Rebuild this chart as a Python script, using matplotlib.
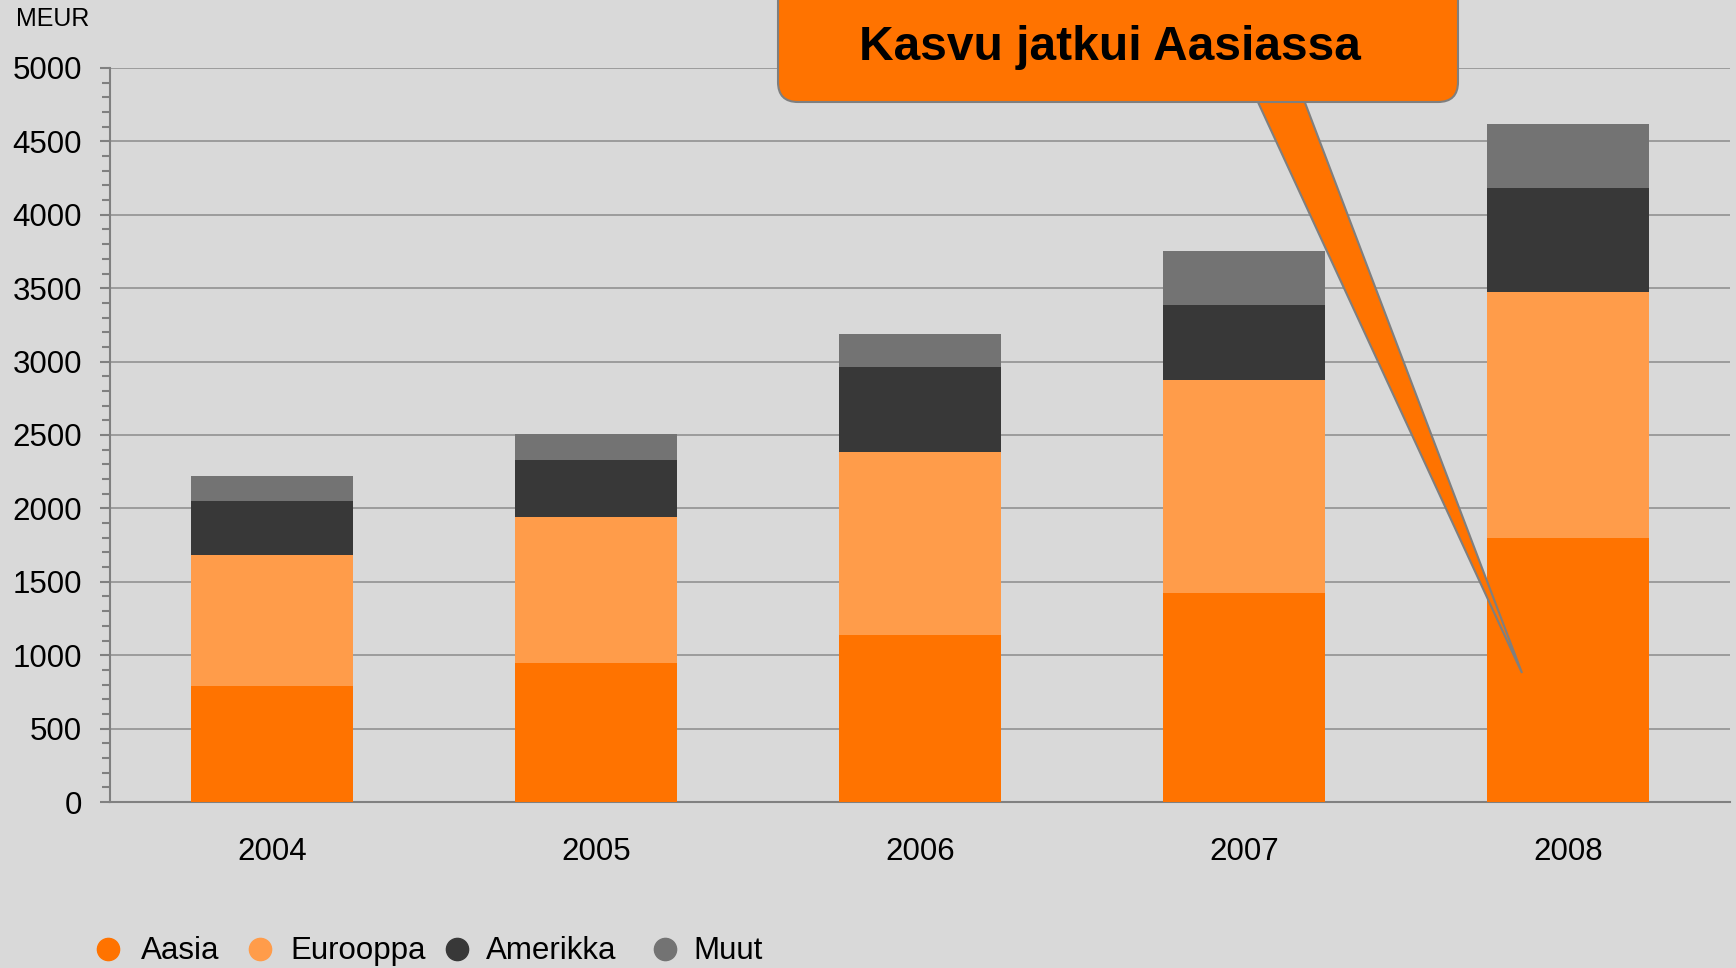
import matplotlib
matplotlib.use("Agg")
import matplotlib.pyplot as plt
import matplotlib.transforms as mtransforms
from matplotlib.patches import FancyBboxPatch, Polygon
from matplotlib.lines import Line2D
from matplotlib.ticker import MultipleLocator
import numpy as np

years = ["2004", "2005", "2006", "2007", "2008"]
series_names = ["Aasia", "Eurooppa", "Amerikka", "Muut"]
aasia = [790, 950, 1140, 1425, 1795]
eurooppa = [890, 990, 1245, 1450, 1680]
amerikka = [370, 390, 580, 510, 705]
muut = [170, 175, 225, 370, 440]
callout_text = "Kasvu jatkui Aasiassa"

colors = ["#ff7300", "#ff9c4a", "#383838", "#737373"]
bg = "#d9d9d9"
W, H = 1736, 968

plt.rcParams["font.family"] = ["Liberation Sans", "DejaVu Sans"]

fig = plt.figure(figsize=(W / 100, H / 100), dpi=100, facecolor=bg)
ax = fig.add_axes([110 / W, 1 - 802 / H, 1620 / W, 734 / H], facecolor=bg)

# pixel coords (top-left origin) -> figure
px = mtransforms.Affine2D().scale(1 / W, -1 / H).translate(0, 1) + fig.transFigure

x = np.arange(len(years))
bottom = np.zeros(len(years))
for vals, c in zip([aasia, eurooppa, amerikka, muut], colors):
    ax.bar(x, vals, width=0.5, bottom=bottom, color=c, zorder=3)
    bottom += np.array(vals)

ax.set_xlim(-0.5, 4.5)
ax.set_ylim(0, 5000)
ax.yaxis.set_major_locator(MultipleLocator(500))
ax.yaxis.set_minor_locator(MultipleLocator(100))
ax.set_xticks(x)
ax.set_xticklabels(years)
ax.grid(axis="y", which="major", color="#8c8c8c", lw=1.1, zorder=0)

for s in ["top", "right"]:
    ax.spines[s].set_visible(False)
for s in ["left", "bottom"]:
    ax.spines[s].set_color("#808080")
    ax.spines[s].set_linewidth(1.5)
ax.tick_params(axis="y", which="major", length=7, width=1.5, color="#808080",
               labelsize=22.5, pad=13)
ax.tick_params(axis="y", which="minor", length=6, width=1.5, color="#808080")
ax.tick_params(axis="x", length=0, labelsize=22.5, pad=25)

fig.text(16 / W, 1 - 19 / H, "MEUR", fontsize=18, va="center", ha="left")

# callout with wedge pointing into the 2008 Aasia bar
wedge = Polygon([(1257, 100), (1304, 100), (1522, 673)], closed=True,
                facecolor=colors[0], edgecolor="#7f7f7f", lw=1.5,
                transform=px, zorder=5)
fig.add_artist(wedge)
box = FancyBboxPatch((778, -60), 680, 162,
                     boxstyle="round,pad=0,rounding_size=20",
                     facecolor=colors[0], edgecolor="#7f7f7f", lw=1.5,
                     transform=px, zorder=6)
fig.add_artist(box)
fig.text(1110 / W, 1 - 47 / H, callout_text, fontsize=34.5, fontweight="bold",
         family=["Liberation Sans Narrow", "Liberation Sans"],
         ha="center", va="center", zorder=7)

# legend row at the bottom
marker_x = [108, 260, 457, 665]
label_x = [141, 290, 486, 693]
for name, c, mx, lx in zip(series_names, colors, marker_x, label_x):
    fig.add_artist(Line2D([mx / W], [1 - 949 / H], marker="o", ms=16,
                          color=c, lw=0, transform=fig.transFigure))
    fig.text(lx / W, 1 - 951 / H, name, fontsize=22.5,
             ha="left", va="center")

fig.savefig("out.png", dpi=100, facecolor=bg)
